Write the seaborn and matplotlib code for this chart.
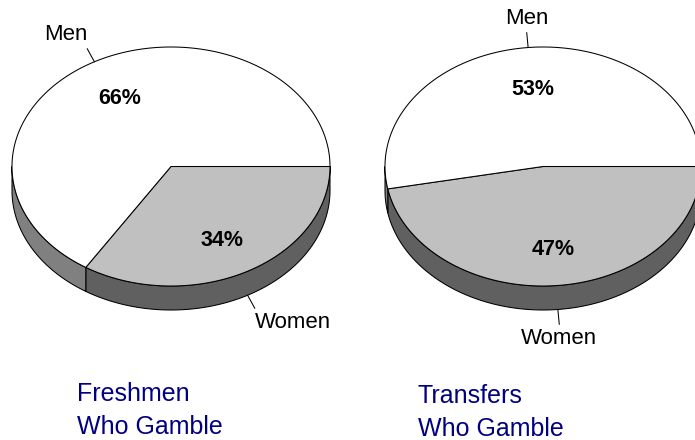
import numpy as np
import matplotlib
matplotlib.use("Agg")
import matplotlib.pyplot as plt
from matplotlib.patches import Polygon
import seaborn as sns

# ---- data ----
groups = ["Freshmen\nWho Gamble", "Transfers\nWho Gamble"]
categories = ["Women", "Men"]
women_pct = [34, 47]
men_pct = [66, 53]

# ---- styling ----
sns.set_style("white")
plt.rcParams['font.family'] = ['Liberation Sans', 'DejaVu Sans']
plt.rcParams['text.color'] = 'black'

top_colors = {"Women": "#C0C0C0", "Men": "#FFFFFF"}
side_colors = {"Women": "#606060", "Men": "#808080"}
title_color = "#000080"

fig = plt.figure(figsize=(6.95, 4.40), dpi=100)
ax = fig.add_axes([0, 0, 1, 1])
ax.set_xlim(0, 695)
ax.set_ylim(440, 0)
ax.axis("off")

# layout of each pie (pixel space)
centers = [(171, 166.5), (543, 166.5)]
semi_a = [159, 158]
semi_b = 119.5
depth = 24
title_pos = [(77, 382), (418, 384)]
lw = 0.75


def ell(cx, cy, a, b, t):
    r = np.radians(t)
    return cx + a * np.cos(r), cy + b * np.sin(r)


for gi, group in enumerate(groups):
    cx, cy = centers[gi]
    a = semi_a[gi]
    b = semi_b
    vals = {"Women": women_pct[gi], "Men": men_pct[gi]}
    # angular spans (parametric degrees, clockwise on screen starting at 3 o'clock)
    spans = {}
    start = 0.0
    for cat in categories:
        end = start + 3.6 * vals[cat]
        spans[cat] = (start, end)
        start = end

    # sides (visible front half: 0..180)
    for cat in categories:
        s0, s1 = spans[cat]
        v0, v1 = max(s0, 0), min(s1, 180)
        if v1 <= v0:
            continue
        t = np.linspace(v0, v1, 200)
        xt, yt = ell(cx, cy, a, b, t)
        pts = np.concatenate([np.column_stack([xt, yt]),
                              np.column_stack([xt[::-1], yt[::-1] + depth])])
        ax.add_patch(Polygon(pts, closed=True, facecolor=side_colors[cat],
                             edgecolor="black", lw=lw, joinstyle="round"))

    # top faces
    for cat in categories:
        s0, s1 = spans[cat]
        t = np.linspace(s0, s1, 400)
        xt, yt = ell(cx, cy, a, b, t)
        pts = np.vstack([[cx, cy], np.column_stack([xt, yt])])
        ax.add_patch(Polygon(pts, closed=True, facecolor=top_colors[cat],
                             edgecolor="black", lw=lw, joinstyle="round"))

    # percentage labels and category labels with leader lines
    for cat in categories:
        s0, s1 = spans[cat]
        mid = (s0 + s1) / 2
        c, s = np.cos(np.radians(mid)), np.sin(np.radians(mid))
        px = cx + 0.67 * a * c
        py = cy + 0.67 * b * s + (depth * 0.15 if s > 0 else 2.5)
        ax.text(px, py, f"{vals[cat]}%", ha="center", va="center",
                fontsize=15.5, fontweight="bold", color="black")
        ex, ey = cx + a * c, cy + b * s + (depth if s > 0 else 0)
        lx, ly = ex + 15 * c, ey + 15 * s
        ax.plot([ex, lx], [ey, ly], color="black", lw=lw)
        ha = "center" if abs(c) < 0.3 else ("right" if c < 0 else "left")
        if s < 0:
            ax.text(lx, ly - 4, cat, ha=ha, va="bottom", fontsize=16, color="black")
        else:
            ax.text(lx, ly + 4, cat, ha=ha, va="top", fontsize=16, color="black")

    tx, ty = title_pos[gi]
    ax.text(tx, ty, group, ha="left", va="top", fontsize=18,
            color=title_color, linespacing=1.45)

fig.savefig("out.png", dpi=100)
